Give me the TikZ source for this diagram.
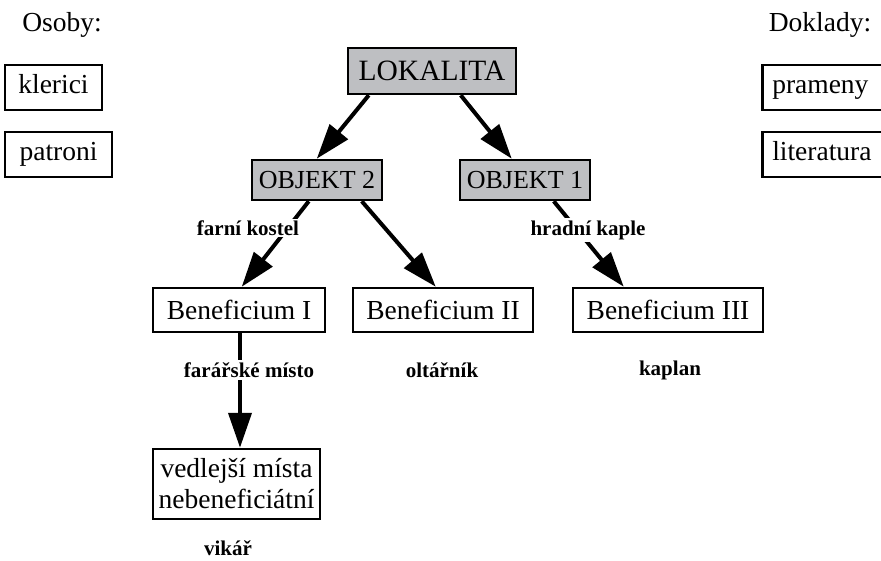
\documentclass[tikz,border=0pt]{standalone}
\usepackage{fontspec}
\setmainfont{Liberation Serif}
\usetikzlibrary{arrows.meta}
\definecolor{boxgray}{RGB}{190,191,194}
\tikzset{
  box/.style={draw=black, line width=2.5pt, inner sep=0pt, align=center,
    font=\fontsize{27.5}{31}\selectfont},
  sidebox/.style={box, text height=19.25pt, text depth=6.6pt, minimum height=45pt},
  gbox/.style={box, fill=boxgray},
  lab/.style={fill=white, inner sep=2pt, font=\bfseries\fontsize{21}{24}\selectfont},
  head/.style={font=\fontsize{27.5}{31}\selectfont, inner sep=0pt},
  conn/.style={line width=4pt, -{Triangle[length=35pt,width=23pt]}}
}
\begin{document}
\begin{tikzpicture}[x=1pt,y=-1pt]
\useasboundingbox (0,0) rectangle (881,561);
\clip (0,0) rectangle (881,561);
% side headings and boxes
\node[head] (osoby) at (62,25) {Osoby:};
\node[head] (doklady) at (820,25) {Doklady:};
\node[sidebox, minimum width=97pt] (klerici) at (53.5,87.5) {klerici};
\node[sidebox, minimum width=107pt] (patroni) at (58.5,154.5) {patroni};
\node[sidebox, anchor=west, text width=120pt, align=left, inner xsep=10pt] (prameny) at (761,87.5) {prameny};
\node[sidebox, anchor=west, text width=120pt, align=left, inner xsep=10pt] (literatura) at (761,154.5) {literatura};
% main tree
\node[gbox, minimum width=168pt, minimum height=46pt, font=\fontsize{29.5}{31}\selectfont] (lok) at (432,71) {LOKALITA};
\node[gbox, minimum width=130pt, minimum height=40pt, font=\fontsize{26}{30}\selectfont] (obj2) at (317,180) {OBJEKT 2};
\node[gbox, minimum width=130pt, minimum height=40pt, font=\fontsize{26}{30}\selectfont] (obj1) at (525,180) {OBJEKT 1};
\node[box, minimum width=172pt, minimum height=44pt] (ben1) at (239,310) {Beneficium I};
\node[box, minimum width=180pt, minimum height=44pt] (ben2) at (443,310) {Beneficium II};
\node[box, minimum width=190pt, minimum height=44pt] (ben3) at (668,310) {Beneficium III};
\node[box, minimum width=167pt, minimum height=70pt] (ved) at (236.5,484) {vedlejší místa\\nebeneficiátní};
% connectors
\draw[conn] ([xshift=22pt]lok.south west) -- ([xshift=66pt]obj2.north west);
\draw[conn] ([xshift=114pt]lok.south west) -- ([xshift=53pt]obj1.north west);
\draw[conn] ([xshift=58pt]obj2.south west) -- ([xshift=90pt]ben1.north west);
\draw[conn] ([xshift=111pt]obj2.south west) -- ([xshift=84pt]ben2.north west);
\draw[conn] ([xshift=95pt]obj1.south west) -- ([xshift=52pt]ben3.north west);
\draw[conn] ([xshift=1pt]ben1.south) -- ([xshift=1pt]ben1.south |- ved.north);
% labels
\node[lab] (l1) at (248,228) {farní kostel};
\node[lab] (l2) at (588,230) {hradní kaple};
\node[lab] (l3) at (249,370) {farářské místo};
\node[lab] (l4) at (442,370) {oltářník};
\node[lab] (l5) at (670,370) {kaplan};
\node[lab] (l6) at (228,548) {vikář};
\end{tikzpicture}
\end{document}
